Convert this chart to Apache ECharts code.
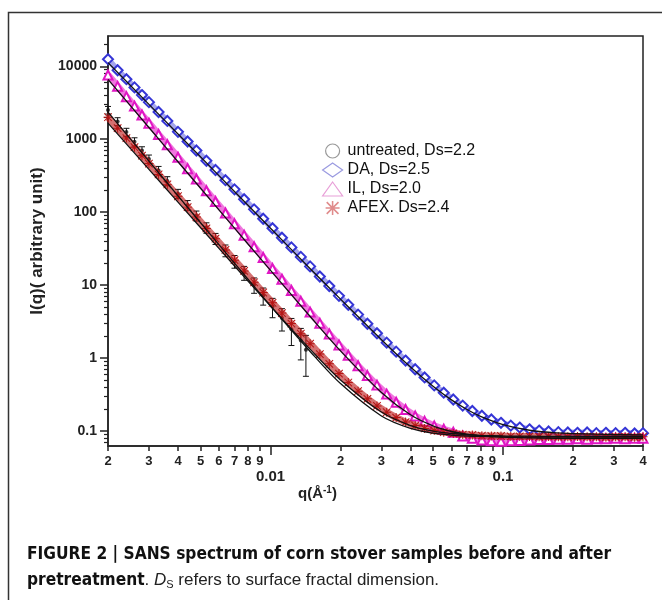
<!DOCTYPE html>
<html>
<head>
<meta charset="UTF-8">
<script src="https://cdn.jsdelivr.net/npm/echarts@6/dist/echarts.min.js"></script>
<style>
html, body { margin: 0; padding: 0; background: #fff; }
#chart { width: 662px; height: 600px; }
</style>
</head>
<body>
<div id="chart"></div>
<script>
// q values (1/Å) shared by DA, IL and AFEX
const qValues = [0.002, 0.0022, 0.0024, 0.0026, 0.0028, 0.003, 0.0033, 0.0036, 0.004, 0.0044,
    0.0048, 0.0053, 0.0058, 0.0064, 0.007, 0.0077, 0.0085, 0.0093, 0.0102, 0.0112,
    0.0123, 0.0135, 0.0148, 0.0163, 0.0179, 0.0197, 0.0216, 0.0238, 0.0261, 0.0287,
    0.0316, 0.0347, 0.0381, 0.0419, 0.046, 0.0506, 0.0556, 0.0611, 0.0671, 0.0738,
    0.0811, 0.0891, 0.098, 0.108, 0.118, 0.13, 0.143, 0.157, 0.173, 0.19,
    0.209, 0.23, 0.252, 0.277, 0.305, 0.335, 0.368, 0.4];

const daValues = [12500, 8820, 6650, 5130, 4030, 3220, 2360, 1780, 1260, 930,
    700, 506, 378, 274, 205, 150, 109, 81, 60, 44.5,
    32.8, 24.3, 18.0, 13.1, 9.7, 7.1, 5.36, 3.93, 2.94, 2.18,
    1.62, 1.22, 0.92, 0.70, 0.54, 0.42, 0.334, 0.269, 0.222, 0.187,
    0.161, 0.143, 0.129, 0.118, 0.111, 0.105, 0.101, 0.098, 0.096, 0.095,
    0.094, 0.095, 0.093, 0.094, 0.093, 0.094, 0.092, 0.093];

const ilValues = [7600, 5300, 3830, 2840, 2150, 1660, 1160, 840, 564, 394,
    285, 196, 140, 97, 69, 48.3, 33.4, 23.8, 16.8, 12.0,
    8.43, 5.97, 4.25, 2.98, 2.13, 1.51, 1.09, 0.78, 0.573, 0.424,
    0.319, 0.247, 0.196, 0.160, 0.135, 0.117, 0.105, 0.096, 0.085, 0.079,
    0.075, 0.073, 0.072, 0.073, 0.074, 0.075, 0.076, 0.076, 0.077, 0.077,
    0.078, 0.077, 0.078, 0.078, 0.079, 0.078, 0.079, 0.079];

const afexValues = [2000, 1416, 1035, 776, 594, 463, 329, 240, 165, 117,
    85.4, 59.8, 43.2, 30.3, 21.9, 15.6, 10.9, 7.9, 5.7, 4.12,
    2.96, 2.15, 1.57, 1.13, 0.83, 0.61, 0.46, 0.35, 0.275, 0.22,
    0.18, 0.152, 0.132, 0.118, 0.108, 0.101, 0.096, 0.092, 0.089, 0.088,
    0.086, 0.085, 0.085, 0.084, 0.084, 0.084, 0.083, 0.084, 0.083, 0.083,
    0.084, 0.083, 0.083, 0.082, 0.083, 0.083, 0.082, 0.083];

// untreated sample only measured at low q
const qUntreated = [0.002, 0.0022, 0.0024, 0.0026, 0.0028, 0.003, 0.0033, 0.0036, 0.004, 0.0044,
    0.0048, 0.0053, 0.0058, 0.0064, 0.007, 0.0077, 0.0085, 0.0093, 0.0102, 0.0112,
    0.0123, 0.0135, 0.0142];
const untreatedValues = [2510, 1750, 1250, 925, 697, 536, 373, 268, 179, 125,
    89.4, 61.3, 43.5, 29.9, 21.2, 14.8, 10.1, 7.2, 5.06, 3.54,
    2.48, 1.74, 1.3];
const untreatedErr = [300, 220, 160, 120, 90, 70, 50, 38, 26, 19,
    14, 10, 7.5, 5.5, 4.2, 3.2, 2.4, 1.9, 1.5, 1.2,
    1.0, 0.8, 0.74];

// fitted curves (black lines)
const qFit = [0.002, 0.003, 0.004, 0.006, 0.008, 0.01, 0.015, 0.02, 0.03, 0.04,
    0.05, 0.06, 0.07, 0.08, 0.1, 0.13, 0.17, 0.25, 0.4];
const fitDA = [11220, 3000, 1180, 316, 124, 60, 16.1, 6.4, 1.78, 0.751,
    0.409, 0.266, 0.196, 0.158, 0.122, 0.102, 0.094, 0.090, 0.088];
const fitIL = [6607, 1444, 491, 107.4, 36.5, 15.9, 3.53, 1.25, 0.336, 0.166,
    0.117, 0.098, 0.090, 0.0855, 0.0818, 0.080, 0.079, 0.079, 0.079];
const fitUntreated = [2344, 500, 167, 35.8, 12.0, 5.17, 1.17, 0.445, 0.160, 0.108,
    0.093, 0.0875, 0.085, 0.0838, 0.0828, 0.082, 0.082, 0.082, 0.082];
const fitAFEX = [1660, 385, 137, 31.8, 11.3, 5.13, 1.26, 0.50, 0.181, 0.118,
    0.099, 0.092, 0.0886, 0.0868, 0.0853, 0.0845, 0.084, 0.084, 0.084];

const seriesNames = ['untreated, Ds=2.2', 'DA, Ds=2.5', 'IL, Ds=2.0', 'AFEX. Ds=2.4'];

// axis ticks
const xMajorTicks = [0.01, 0.1];
const xMinorTicks = [0.002, 0.003, 0.004, 0.005, 0.006, 0.007, 0.008, 0.009,
    0.02, 0.03, 0.04, 0.05, 0.06, 0.07, 0.08, 0.09, 0.2, 0.3, 0.4];
const xMinorLabels = ['2', '3', '4', '5', '6', '7', '8', '9',
    '2', '3', '4', '5', '6', '7', '8', '9', '2', '3', '4'];
const yMajorTicks = [0.1, 1, 10, 100, 1000, 10000];
const yMajorLabels = ['0.1', '1', '10', '100', '1000', '10000'];
const yMinorTicks = [0.07, 0.08, 0.09, 0.2, 0.3, 0.4, 0.5, 0.6, 0.7, 0.8, 0.9,
    2, 3, 4, 5, 6, 7, 8, 9, 20, 30, 40, 50, 60, 70, 80, 90,
    200, 300, 400, 500, 600, 700, 800, 900, 2000, 3000, 4000, 5000, 6000, 7000, 8000, 9000, 20000];

const xMin = 0.002, xMax = 0.4;
const yMin = 0.062, yMax = 26000;

const FONT = '"Liberation Sans", Arial, sans-serif';
const CAPTION_FONT = '"Liberation Sans Narrow", "DejaVu Sans Condensed", Arial, sans-serif';
const asterisk = 'path://M4.45,0h1.1v10h-1.1z M0,4.45h10v1.1h-10z M1.2,0.4L9.6,8.8L8.8,9.6L0.4,1.2z M8.8,0.4L9.6,1.2L1.2,9.6L0.4,8.8z';

const zip = (xs, ys) => xs.map((x, i) => [x, ys[i]]);

const chart = echarts.init(document.getElementById('chart'), null, { renderer: 'canvas' });

function renderErrBar(params, api) {
    const lo = api.coord([api.value(0), api.value(1)]);
    const hi = api.coord([api.value(0), api.value(2)]);
    const st = { stroke: '#111', lineWidth: 1 };
    return {
        type: 'group',
        children: [
            { type: 'line', shape: { x1: lo[0], y1: lo[1], x2: hi[0], y2: hi[1] }, style: st },
            { type: 'line', shape: { x1: lo[0] - 3, y1: lo[1], x2: lo[0] + 3, y2: lo[1] }, style: st },
            { type: 'line', shape: { x1: hi[0] - 3, y1: hi[1], x2: hi[0] + 3, y2: hi[1] }, style: st }
        ]
    };
}

const fitLine = (data) => ({
    type: 'line',
    data: data,
    showSymbol: false,
    smooth: 0.3,
    z: 10,
    silent: true,
    lineStyle: { color: '#111', width: 1.3 }
});

const option = {
    animation: false,
    textStyle: { fontFamily: FONT },
    grid: {
        left: 108, right: 19, top: 36, bottom: 154,
        show: true, borderColor: '#222', borderWidth: 1.5,
        outerBoundsMode: 'none'
    },
    legend: {
        orient: 'vertical',
        left: 317, top: 138,
        itemGap: 3, itemWidth: 20, itemHeight: 14,
        textStyle: { fontSize: 16, color: '#111', fontFamily: FONT },
        data: [
            { name: seriesNames[0], icon: 'circle', itemStyle: { color: 'transparent', borderColor: '#999', borderWidth: 1.2 } },
            { name: seriesNames[1], icon: 'diamond', itemStyle: { color: 'transparent', borderColor: '#9a9ae0', borderWidth: 1.2 } },
            { name: seriesNames[2], icon: 'triangle', itemStyle: { color: 'transparent', borderColor: '#e8a0d8', borderWidth: 1.2 } },
            { name: seriesNames[3], icon: asterisk, itemStyle: { color: '#e08c8c', borderWidth: 0 } }
        ]
    },
    xAxis: [
        {
            type: 'log', min: xMin, max: xMax, position: 'bottom',
            axisLine: { lineStyle: { color: '#222', width: 1.5 } },
            axisTick: { customValues: xMinorTicks, length: 5, lineStyle: { color: '#222', width: 1.5 } },
            axisLabel: {
                customValues: xMinorTicks, margin: 9,
                fontSize: 13, fontWeight: 'bold', color: '#222',
                formatter: (v) => xMinorLabels[xMinorTicks.findIndex(t => Math.abs(t - v) / t < 1e-6)] || ''
            },
            splitLine: { show: false }
        },
        {
            type: 'log', min: xMin, max: xMax, position: 'bottom',
            axisLine: { show: false },
            axisTick: { customValues: xMajorTicks, length: 9, lineStyle: { color: '#222', width: 1.5 } },
            axisLabel: {
                customValues: xMajorTicks, margin: 23,
                fontSize: 15, fontWeight: 'bold', color: '#222',
                formatter: (v) => String(v)
            },
            splitLine: { show: false }
        }
    ],
    yAxis: [
        {
            type: 'log', min: yMin, max: yMax,
            name: 'I(q)( arbitrary unit)', nameLocation: 'middle', nameGap: 62, nameRotate: 90,
            nameTextStyle: { fontSize: 17, fontWeight: 'bold', color: '#222', fontFamily: FONT },
            axisLine: { lineStyle: { color: '#222', width: 1.5 } },
            axisTick: { customValues: yMajorTicks, length: 8, lineStyle: { color: '#222', width: 1.5 } },
            axisLabel: {
                customValues: yMajorTicks, margin: 11,
                fontSize: 14, fontWeight: 'bold', color: '#222',
                formatter: (v) => yMajorLabels[yMajorTicks.findIndex(t => Math.abs(t - v) / t < 1e-6)] || ''
            },
            splitLine: { show: false }
        },
        {
            type: 'log', min: yMin, max: yMax, position: 'left',
            axisLine: { show: false },
            axisTick: { customValues: yMinorTicks, length: 4, lineStyle: { color: '#222', width: 1.2 } },
            axisLabel: { show: false },
            splitLine: { show: false }
        }
    ],
    series: [
        {
            name: seriesNames[0],
            type: 'custom',
            renderItem: renderErrBar,
            encode: { x: 0, y: [1, 2] },
            data: qUntreated.map((q, i) => [q, untreatedValues[i] - untreatedErr[i], untreatedValues[i] + untreatedErr[i]]),
            z: 3
        },
        {
            name: seriesNames[0],
            type: 'scatter',
            data: zip(qUntreated, untreatedValues),
            symbol: 'circle', symbolSize: 4,
            itemStyle: { color: '#111' },
            z: 3
        },
        {
            name: seriesNames[1],
            type: 'line',
            data: zip(qValues, daValues),
            symbol: 'emptyDiamond', symbolSize: 10, showAllSymbol: true,
            itemStyle: { color: '#3535d6', borderWidth: 1 },
            lineStyle: { color: 'rgba(55,55,215,0.45)', width: 6 },
            z: 2
        },
        {
            name: seriesNames[2],
            type: 'line',
            data: zip(qValues, ilValues),
            symbol: 'emptyTriangle', symbolSize: 9, showAllSymbol: true,
            itemStyle: { color: '#e016c4', borderWidth: 1 },
            lineStyle: { color: 'rgba(228,30,200,0.6)', width: 7 },
            z: 2
        },
        {
            name: seriesNames[3],
            type: 'line',
            data: zip(qValues, afexValues),
            symbol: asterisk, symbolSize: 9, showAllSymbol: true,
            itemStyle: { color: '#b51515' },
            lineStyle: { color: 'rgba(185,20,20,0.6)', width: 7 },
            z: 4
        },
        fitLine(zip(qFit, fitDA)),
        fitLine(zip(qFit, fitIL)),
        fitLine(zip(qFit, fitUntreated)),
        fitLine(zip(qFit, fitAFEX))
    ],
    graphic: [
        {
            type: 'rect', silent: true,
            shape: { x: 8.5, y: 12.5, width: 700, height: 700 },
            style: { fill: 'none', stroke: '#333', lineWidth: 1.5 }
        },
        {
            type: 'text', silent: true, x: 298, y: 485,
            style: {
                text: '{a|q(Å}{s|-1}{a|)}',
                rich: {
                    a: { fontSize: 15, fontWeight: 'bold', fill: '#222', fontFamily: FONT },
                    s: { fontSize: 10, fontWeight: 'bold', fill: '#222', fontFamily: FONT, verticalAlign: 'top', padding: [0, 0, 8, 0] }
                }
            }
        },
        {
            type: 'text', silent: true, x: 27, y: 546,
            style: {
                text: 'FIGURE 2 | SANS spectrum of corn stover samples before and after',
                fontSize: 17.2, fontWeight: 'bold', fill: '#111',
                fontFamily: CAPTION_FONT
            }
        },
        {
            type: 'text', silent: true, x: 27, y: 571,
            style: {
                text: '{b|pretreatment}{n|. }{i|D}{sub|S}{n| refers to surface fractal dimension.}',
                rich: {
                    b: { fontSize: 17.2, fontWeight: 'bold', fill: '#111', fontFamily: CAPTION_FONT },
                    n: { fontSize: 17, fill: '#222', fontFamily: FONT },
                    i: { fontSize: 17, fontStyle: 'italic', fill: '#222', fontFamily: FONT },
                    sub: { fontSize: 11, fill: '#222', fontFamily: FONT, padding: [8, 0, 0, 0] }
                }
            }
        }
    ]
};

chart.setOption(option);
</script>
</body>
</html>
